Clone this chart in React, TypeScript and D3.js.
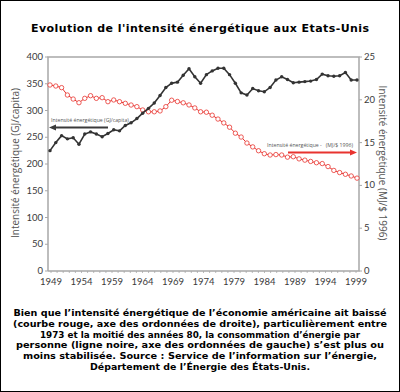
import * as d3 from "d3";
import { useEffect, useRef } from "react";

// years of the data (the series run past the last labelled year)
const years = d3.range(1949, 2003);

// consommation d'énergie par habitant, GJ/capita (axe de gauche)
const perCapita = [
  225, 240, 253, 247, 249, 237, 256, 260, 256, 251,
  257, 264, 262, 272, 277, 285, 295, 304, 314, 328,
  343, 351, 353, 366, 378, 363, 351, 367, 374, 379,
  379, 367, 351, 333, 329, 341, 337, 335, 343, 357,
  363, 358, 352, 353, 354, 355, 358, 368, 365, 364,
  365, 371, 357, 357,
];

// intensité énergétique, MJ/$ 1996 (axe de droite)
const intensity = [
  21.73, 21.61, 21.42, 20.56, 20.09, 19.66, 20.17, 20.48, 20.17, 20.25,
  19.78, 19.98, 19.78, 19.59, 19.39, 19.2, 18.81, 18.6, 18.6, 18.7,
  19.2, 19.95, 19.8, 19.65, 19.4, 19.05, 18.6, 18.55, 18.2, 17.75,
  17.3, 16.8, 16.1, 15.65, 14.95, 14.5, 14.05, 13.7, 13.55, 13.6,
  13.55, 13.3, 13.35, 13.1, 12.95, 12.8, 12.65, 12.55, 12.2, 11.75,
  11.5, 11.3, 11.1, 10.85,
];

const yearLabels = [1949, 1954, 1959, 1964, 1969, 1974, 1979, 1984, 1989, 1994, 1999];
const leftTicks = [0, 50, 100, 150, 200, 250, 300, 350, 400];
const rightTicks = [0, 5, 10, 15, 20, 25];

const title = "Evolution de l'intensité énergétique aux Etats-Unis";
const caption = [
  "Bien que l’intensité énergétique de l’économie américaine ait baissé",
  "(courbe rouge, axe des ordonnées de droite), particulièrement entre",
  "1973 et la moitié des années 80, la consommation d’énergie par",
  "personne (ligne noire, axe des ordonnées de gauche) s’est plus ou",
  "moins stabilisée. Source : Service de l’information sur l’énergie,",
  "Département de l’Énergie des États-Unis.",
];
const captionWidths = [373, 374, 320, 368, 354, 220];

const App = () => {
  const ref = useRef<SVGSVGElement>(null);

  useEffect(() => {
    document.body.style.margin = "0";
    const svg = d3.select(ref.current);
    svg.selectAll("*").remove();

    const W = 400, H = 392;
    const left = 48, right = 359, top = 57, bottom = 271;
    const red = "#e8332f";
    const axisCol = "#a8a8a8";
    const txtCol = "#3a3a3a";
    const font = "'Open Sans', 'Noto Sans', sans-serif";
    const tickFont = "Lato, 'Open Sans', sans-serif";

    svg.append("rect").attr("x", 0.5).attr("y", 0.5).attr("width", W - 1).attr("height", H - 1)
      .attr("fill", "#fff").attr("stroke", "#000");

    svg.append("text")
      .attr("x", 200).attr("y", 32)
      .attr("text-anchor", "middle")
      .attr("font-family", "'DejaVu Sans', Verdana, sans-serif")
      .attr("font-weight", "bold")
      .attr("font-size", 11)
      .attr("textLength", 338).attr("lengthAdjust", "spacing")
      .text(title);

    const x = d3.scaleLinear().domain([1949, 2002]).range([50, 357]);
    const xLab = d3.scaleLinear().domain([1949, 1999]).range([51, 356]);
    const yL = d3.scaleLinear().domain([0, 400]).range([bottom, top]);
    const yR = d3.scaleLinear().domain([0, 25]).range([bottom, top]);

    // frame
    const g = svg.append("g");
    g.append("path")
      .attr("d", `M${left},${bottom}V${top}H${right}V${bottom}H${left}`)
      .attr("fill", "none").attr("stroke", axisCol).attr("stroke-width", 1.5);

    // left axis
    g.selectAll(".lt").data(leftTicks).join("line")
      .attr("x1", left - 3).attr("x2", left)
      .attr("y1", (d) => yL(d)).attr("y2", (d) => yL(d))
      .attr("stroke", axisCol);
    g.selectAll(".ll").data(leftTicks).join("text")
      .attr("x", left - 5).attr("y", (d) => yL(d) + 3)
      .attr("text-anchor", "end")
      .attr("font-family", tickFont).attr("font-size", 9.5).attr("fill", txtCol)
      .text((d) => d);

    // right axis
    g.selectAll(".rt").data(rightTicks).join("line")
      .attr("x1", right).attr("x2", right + 3)
      .attr("y1", (d) => yR(d)).attr("y2", (d) => yR(d))
      .attr("stroke", axisCol);
    g.selectAll(".rl").data(rightTicks).join("text")
      .attr("x", right + 5).attr("y", (d) => yR(d) + 3)
      .attr("font-family", tickFont).attr("font-size", 9.5).attr("fill", txtCol)
      .text((d) => d);

    // bottom axis: minor ticks every year, labels every 5 years
    g.selectAll(".bt").data(d3.range(1949, 2000)).join("line")
      .attr("x1", (d) => xLab(d)).attr("x2", (d) => xLab(d))
      .attr("y1", bottom).attr("y2", bottom + 2)
      .attr("stroke", axisCol).attr("stroke-width", 0.8);
    g.selectAll(".bl").data(yearLabels).join("text")
      .attr("x", (d) => xLab(d)).attr("y", 285)
      .attr("text-anchor", "middle")
      .attr("font-family", tickFont).attr("font-size", 9.5).attr("fill", txtCol)
      .text((d) => d);

    // axis titles
    svg.append("text")
      .attr("transform", `translate(19,${(top + bottom) / 2 - 1}) rotate(-90)`)
      .attr("text-anchor", "middle")
      .attr("font-family", font).attr("font-size", 10).attr("fill", "#555")
      .text("Intensité énergétique (GJ/capita)");
    svg.append("text")
      .attr("transform", `translate(379,${(top + bottom) / 2 - 1}) rotate(90)`)
      .attr("text-anchor", "middle")
      .attr("font-family", font).attr("font-size", 10).attr("fill", "#555")
      .text("Intensité énergétique (MJ/$ 1996)");

    // red series
    const redData = years.map((yr, i) => ({ yr, v: intensity[i] }));
    const redLine = d3.line<{ yr: number; v: number }>().x((d) => x(d.yr)).y((d) => yR(d.v));
    svg.append("path").datum(redData)
      .attr("d", redLine).attr("fill", "none").attr("stroke", red).attr("stroke-width", 1);
    svg.selectAll(".rp").data(redData).join("circle")
      .attr("cx", (d) => x(d.yr)).attr("cy", (d) => yR(d.v)).attr("r", 2.2)
      .attr("fill", "#fff").attr("stroke", red).attr("stroke-width", 0.8);

    // black series
    const blackData = years.map((yr, i) => ({ yr, v: perCapita[i] }));
    const blackLine = d3.line<{ yr: number; v: number }>().x((d) => x(d.yr)).y((d) => yL(d.v));
    svg.append("path").datum(blackData)
      .attr("d", blackLine).attr("fill", "none").attr("stroke", "#333").attr("stroke-width", 1.6);
    svg.selectAll(".bp").data(blackData).join("circle")
      .attr("cx", (d) => x(d.yr)).attr("cy", (d) => yL(d.v)).attr("r", 1.7)
      .attr("fill", "#333");

    // annotations
    svg.append("text")
      .attr("x", 51).attr("y", 122)
      .attr("font-family", font).attr("font-size", 5.2).attr("fill", "#555")
      .text("Intensité énergétique (GJ/capita)");
    svg.append("line")
      .attr("x1", 55).attr("x2", 108).attr("y1", 127.5).attr("y2", 127.5)
      .attr("stroke", "#3a3a3a").attr("stroke-width", 2);
    svg.append("path")
      .attr("d", "M49,127.5L56,124.5L56,130.5Z").attr("fill", "#3a3a3a");

    svg.append("text")
      .attr("x", 267).attr("y", 147)
      .attr("font-family", font).attr("font-size", 5.2).attr("fill", "#555")
      .attr("xml:space", "preserve")
      .text("Intensité énergétique -   (MJ/$ 1996)");
    svg.append("line")
      .attr("x1", 288).attr("x2", 351).attr("y1", 152.5).attr("y2", 152.5)
      .attr("stroke", red).attr("stroke-width", 2);
    svg.append("path")
      .attr("d", "M357,152.5L350,149.5L350,155.5Z").attr("fill", red);

    // caption
    svg.selectAll(".cap").data(caption).join("text")
      .attr("x", 200).attr("y", (d, i) => 316 + i * 10.8)
      .attr("text-anchor", "middle")
      .attr("font-family", "'DejaVu Sans', Verdana, sans-serif")
      .attr("font-weight", "bold").attr("font-size", 9)
      .attr("textLength", (d, i) => captionWidths[i]).attr("lengthAdjust", "spacingAndGlyphs")
      .text((d) => d);
  }, []);

  return <svg ref={ref} width={400} height={392} style={{ display: "block" }} />;
};

export default App;
